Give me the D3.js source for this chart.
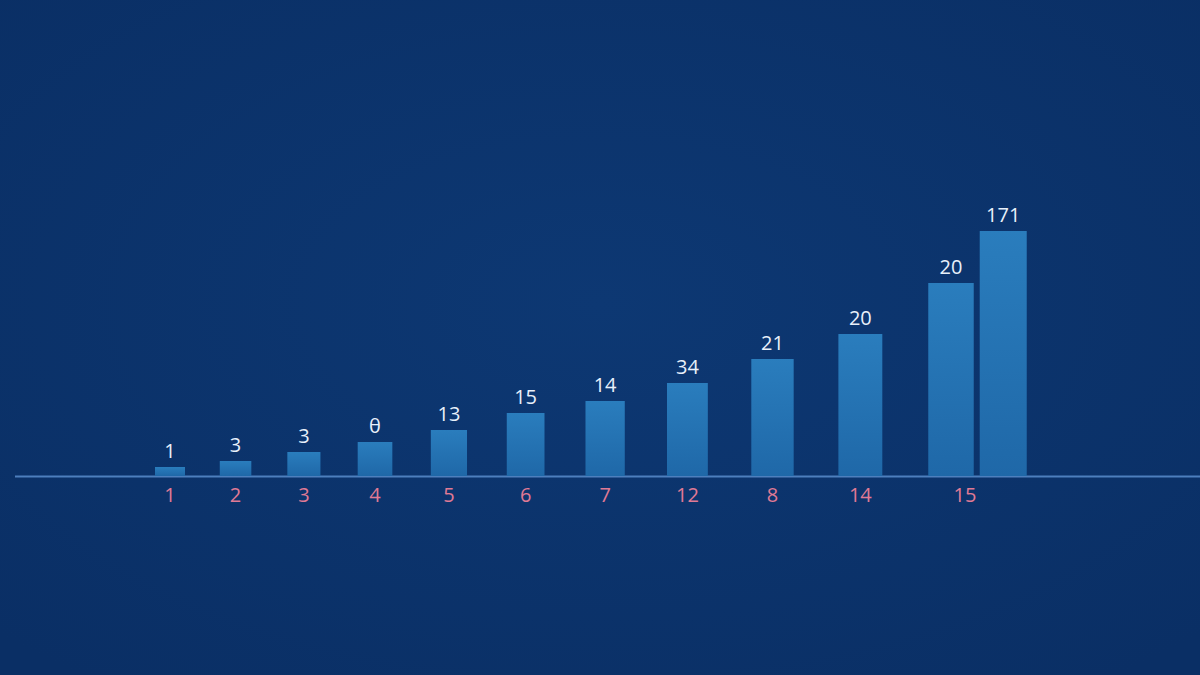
<!DOCTYPE html>
<html>
<head>
<meta charset="utf-8">
<script src="https://cdn.jsdelivr.net/npm/d3@7"></script>
<style>
  html, body { margin: 0; padding: 0; background: #0b3269; }
  svg { display: block; }
</style>
</head>
<body>
<svg id="chart"></svg>
<script>
// values
var barValues = [9, 15, 24, 34, 46, 63, 75, 93, 117, 142, 193, 245];
var valueLabels = ["1", "3", "3", "\u03B8", "13", "15", "14", "34", "21", "20", "20", "171"];
var xLabels = ["1", "2", "3", "4", "5", "6", "7", "12", "8", "14", "15"];

var width = 1200,
    height = 675,
    baseY = 476,
    textColor = "#e8f0fa",
    labelColor = "#e07a95";

var svg = d3.select("#chart")
    .attr("width", width)
    .attr("height", height);

var defs = svg.append("defs");

var bg = defs.append("radialGradient")
    .attr("id", "bg")
    .attr("cx", "50%").attr("cy", "45%").attr("r", "70%");
bg.append("stop").attr("offset", "0%").attr("stop-color", "#0d3873");
bg.append("stop").attr("offset", "100%").attr("stop-color", "#0a2f65");

var barGrad = defs.append("linearGradient")
    .attr("id", "barGrad")
    .attr("x1", 0).attr("y1", 0).attr("x2", 0).attr("y2", 1);
barGrad.append("stop").attr("offset", "0%").attr("stop-color", "#2a7dbd");
barGrad.append("stop").attr("offset", "100%").attr("stop-color", "#1f68a8");

svg.append("rect")
    .attr("width", width)
    .attr("height", height)
    .attr("fill", "url(#bg)");

// gaps between bars widen a little at each step
var xOffset = 23;
var x = d3.scalePow().exponent(2)
    .domain([xOffset, xOffset + 10])
    .range([170, 951]);

var w = d3.scaleLinear()
    .domain([0, 11])
    .range([30, 47]);

var y = d3.scaleLinear()
    .domain([0, 250])
    .range([baseY, baseY - 250]);

// the last bar sits right next to the one before it
function centerOf(i) {
  if (i < 11) return x(xOffset + i);
  return x(xOffset + 10) + w(10) / 2 + 6 + w(11) / 2;
}

svg.append("line")
    .attr("x1", 15)
    .attr("x2", width)
    .attr("y1", baseY + 0.5)
    .attr("y2", baseY + 0.5)
    .attr("stroke", "#4d7fbd")
    .attr("stroke-width", 2);

var bars = svg.selectAll("g.bar")
    .data(barValues)
    .enter()
    .append("g")
    .attr("class", "bar");

bars.append("rect")
    .attr("x", function(d, i) { return centerOf(i) - w(i) / 2; })
    .attr("y", function(d) { return y(d); })
    .attr("width", function(d, i) { return w(i); })
    .attr("height", function(d) { return baseY - y(d); })
    .attr("fill", "url(#barGrad)");

bars.append("text")
    .attr("x", function(d, i) { return centerOf(i); })
    .attr("y", function(d) { return y(d) - 9; })
    .attr("text-anchor", "middle")
    .attr("font-family", "Open Sans, sans-serif")
    .attr("font-size", 20)
    .attr("fill", textColor)
    .text(function(d, i) { return valueLabels[i]; });

svg.selectAll("text.xlab")
    .data(xLabels)
    .enter()
    .append("text")
    .attr("class", "xlab")
    .attr("x", function(d, i) { return i < 10 ? centerOf(i) : centerOf(i) + 14; })
    .attr("y", 502)
    .attr("text-anchor", "middle")
    .attr("font-family", "Open Sans, sans-serif")
    .attr("font-size", 20)
    .attr("fill", labelColor)
    .text(function(d) { return d; });
</script>
</body>
</html>
